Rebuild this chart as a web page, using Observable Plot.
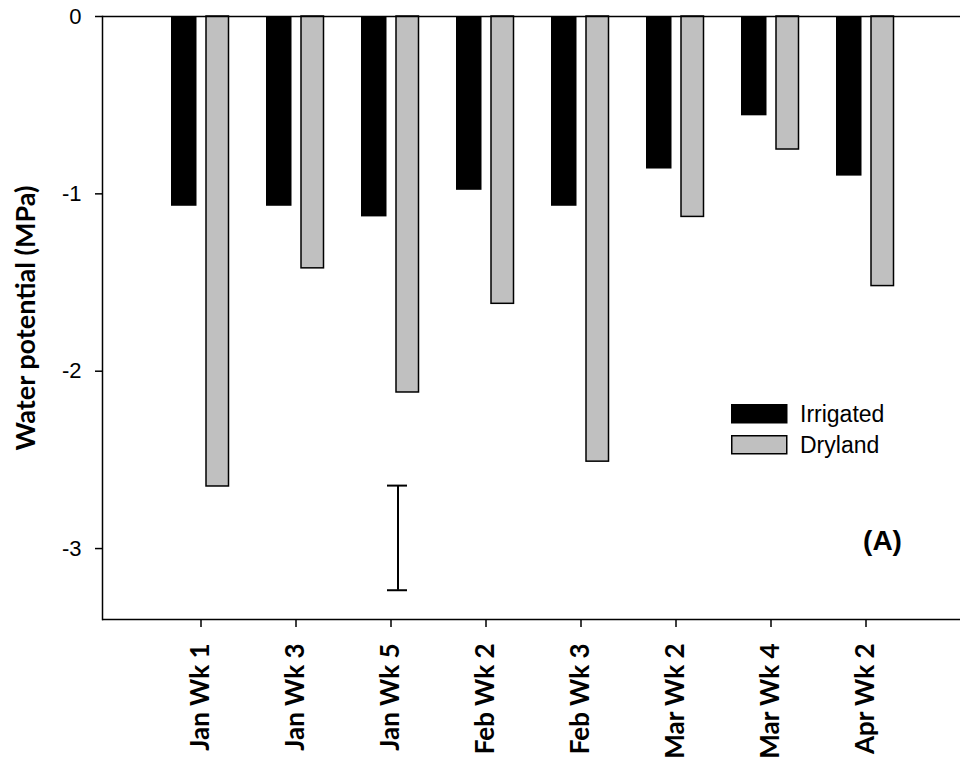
<!DOCTYPE html>
<html><head><meta charset="utf-8">
<script src="https://cdn.jsdelivr.net/npm/d3@7"></script>
<script src="https://cdn.jsdelivr.net/npm/@observablehq/plot@0.6"></script>
<style>body{margin:0;background:#fff}</style>
</head><body><div id="chart"></div>
<script>
const categories = ["Jan Wk 1","Jan Wk 3","Jan Wk 5","Feb Wk 2","Feb Wk 3","Mar Wk 2","Mar Wk 4","Apr Wk 2"];
const irrigated = [-1.07,-1.07,-1.13,-0.98,-1.07,-0.86,-0.56,-0.90];
const dryland = [-2.65,-1.42,-2.12,-1.62,-2.51,-1.13,-0.75,-1.52];
const seriesNames = ["Irrigated","Dryland"];
const seriesColors = ["#000000","#c0c0c0"];
const yTicks = [0,-1,-2,-3];
const errCategory = ["Jan Wk 5"];
const errTop = [-2.645];
const errBottom = [-3.235];
const yTitle = ["Water potential (MPa)"];
const panelLabel = ["(A)"];

const irrData = categories.map((c,i)=>({cat:c, v:irrigated[i]}));
const dryData = categories.map((c,i)=>({cat:c, v:dryland[i]}));
const errData = errCategory.map((c,i)=>({cat:c, top:errTop[i], bottom:errBottom[i]}));

const sans = "'Liberation Sans', Arial, sans-serif";
const bold = "Lato, 'Open Sans', sans-serif";

const plot = Plot.plot({
  width: 960, height: 758,
  marginLeft: 102, marginRight: 0, marginTop: 16, marginBottom: 139,
  style: {fontFamily: sans, fontSize: "22px", color: "#000", background: "#fff"},
  x: {type: "band", domain: categories, range: [102, 964], paddingInner: 0, paddingOuter: 0.5, label: null},
  y: {domain: [-3.4, 0], label: null},
  marks: [
    Plot.barY(irrData, {x: "cat", y: "v", fill: seriesColors[0], insetLeft: 18, insetRight: 51.5}),
    Plot.barY(dryData, {x: "cat", y: "v", fill: seriesColors[1], stroke: "#000", strokeWidth: 1.5, insetLeft: 53, insetRight: 19.5}),
    Plot.ruleX(errData, {x: "cat", y1: "top", y2: "bottom", dx: 7, stroke: "#000", strokeWidth: 2}),
    Plot.tickY(errData, {x: "cat", y: "top", insetLeft: 44, insetRight: 31, stroke: "#000", strokeWidth: 2}),
    Plot.tickY(errData, {x: "cat", y: "bottom", insetLeft: 44, insetRight: 31, stroke: "#000", strokeWidth: 2}),
    Plot.ruleY([0, -3.4], {stroke: "#000", strokeWidth: 1.5}),
    Plot.frame({anchor: "left", stroke: "#000", strokeWidth: 1.5}),
    Plot.axisY({ticks: yTicks, tickSize: 7, tickPadding: 14, tickFormat: d => String(d), fontSize: 22, label: null, stroke: "#000", strokeWidth: 1.5}),
    Plot.axisX({tickSize: 8, tickPadding: 16, tickRotate: -90, fontFamily: bold, fontWeight: "bold", fontSize: 26, label: null, stroke: "#000", strokeWidth: 1.5}),
    Plot.text(yTitle, {frameAnchor: "left", dx: -76, rotate: -90, textAnchor: "middle", lineAnchor: "middle", fontFamily: bold, fontWeight: "bold", fontSize: 27, fill: "#000"}),
    Plot.text(panelLabel, {frameAnchor: "bottom-right", dx: -78, dy: -78, textAnchor: "middle", lineAnchor: "middle", fontFamily: sans, fontWeight: "bold", fontSize: 28, fill: "#000"})
  ]
});
document.getElementById("chart").appendChild(plot);

// legend
const svg = d3.select(plot);
const lg = svg.append("g").attr("transform", "translate(731,404)");
seriesNames.forEach((name, i) => {
  const g = lg.append("g").attr("transform", `translate(0,${i*31})`);
  g.append("rect").attr("x", 0.75).attr("y", 0.75).attr("width", 55).attr("height", 18)
    .attr("fill", seriesColors[i]).attr("stroke", "#000").attr("stroke-width", 1.5);
  g.append("text").attr("x", 69).attr("y", 18).attr("text-anchor", "start")
    .attr("font-family", sans).attr("font-size", 23).attr("fill", "#000").text(name);
});
</script>
</body></html>
